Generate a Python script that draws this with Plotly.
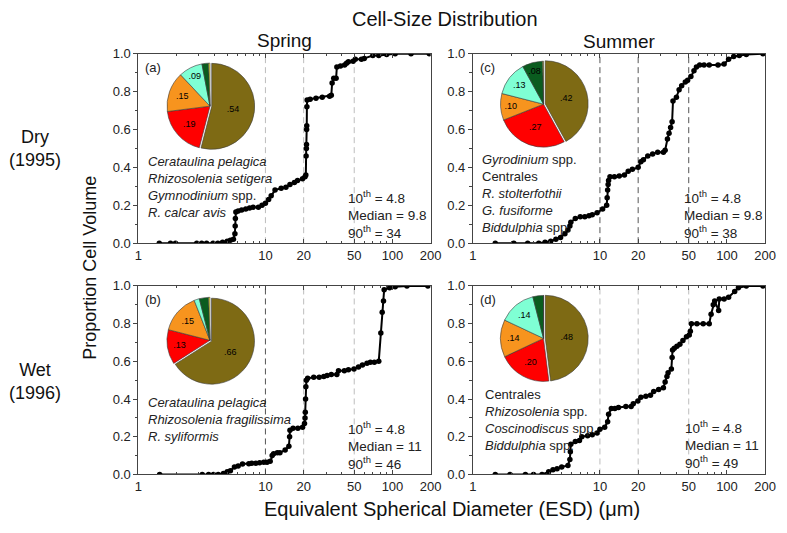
import plotly.graph_objects as go

W, H = 787, 533

# ---------------- data ----------------
# (a) Spring, Dry (1995)
a_esd = [1.46, 1.79, 1.96, 2.88, 3.15, 3.44, 3.87, 4.22, 4.6, 5.0, 5.3, 5.6, 5.75, 5.78, 5.8, 5.85,
         6.1, 6.5, 7.0, 7.5, 8.0, 8.8, 9.4, 10.0, 10.6, 11.1, 11.9, 13.3, 14.5, 15.6, 16.9, 17.9,
         19.6, 20.5, 20.8, 20.9, 21.0, 21.05, 21.1, 21.15, 21.2, 21.3, 22.5, 25.0, 28.0, 32.0, 33.0,
         33.5, 34.5, 36.0, 36.5, 39.0, 42.0, 43.5, 45.0, 49.0, 51.0, 57.0, 60.0, 70.0, 78.0, 90.0,
         105.0, 140.0, 195.0]
a_cum = [0.0, 0.0, 0.0, 0.0, 0.0, 0.0, 0.0, 0.0, 0.005, 0.01, 0.015, 0.02, 0.05, 0.09, 0.13, 0.165,
         0.17, 0.175, 0.18, 0.185, 0.19, 0.19, 0.2, 0.21, 0.23, 0.25, 0.28, 0.29, 0.295, 0.31, 0.32, 0.33,
         0.34, 0.35, 0.36, 0.46, 0.5, 0.52, 0.6, 0.62, 0.72, 0.755, 0.76, 0.765, 0.77, 0.775, 0.78,
         0.845, 0.87, 0.87, 0.93, 0.935, 0.94, 0.95, 0.957, 0.96, 0.97, 0.97, 0.975, 0.99, 0.99, 0.995,
         1.0, 1.0, 1.0]

# (c) Summer, Dry (1995)
c_esd = [1.5, 2.1, 2.7, 3.3, 3.7, 4.1, 4.5, 4.9, 5.3, 5.6, 5.8, 5.9, 6.4, 7.0, 7.6, 8.2, 8.7, 9.5,
         10.5, 11.3, 11.4, 11.5, 11.6, 11.7, 12.0, 13.0, 14.2, 15.6, 16.7, 18.0, 20.0, 21.0, 22.0,
         23.8, 26.0, 28.5, 31.6, 32.6, 34.0, 35.0, 36.0, 37.0, 37.6, 40.0, 42.0, 44.0, 47.0, 49.0,
         52.0, 55.0, 57.5, 61.0, 66.0, 72.5, 85.0, 95.0, 103.0, 113.0, 125.0, 142.0, 192.0]
c_cum = [0.0, 0.0, 0.0, 0.0, 0.005, 0.01, 0.02, 0.03, 0.05, 0.07, 0.09, 0.11, 0.13, 0.14, 0.14, 0.145,
         0.15, 0.16, 0.18, 0.2, 0.24, 0.28, 0.31, 0.33, 0.35, 0.35, 0.355, 0.36, 0.38, 0.39, 0.4, 0.43,
         0.44, 0.46, 0.47, 0.48, 0.48, 0.49, 0.55, 0.58, 0.61, 0.64, 0.75, 0.77, 0.81, 0.83, 0.85, 0.86,
         0.88, 0.91, 0.93, 0.94, 0.94, 0.94, 0.94, 0.945, 0.97, 0.985, 0.99, 0.995, 1.0]

# (b) Spring, Wet (1996)
b_esd = [1.47, 3.18, 3.57, 3.9, 4.25, 4.67, 5.0, 5.3, 5.7, 6.1, 6.6, 7.4, 7.8, 8.4, 9.0, 9.7, 10.3,
         10.9, 11.3, 11.6, 12.4, 13.0, 14.3, 15.3, 15.5, 15.6, 16.5, 18.0, 19.6, 20.3, 20.5, 20.6,
         20.7, 20.8, 21.0, 21.5, 24.0, 26.5, 28.8, 30.6, 33.0, 36.5, 37.6, 41.8, 45.0, 49.8, 54.0,
         58.0, 63.0, 67.0, 72.0, 78.0, 81.0, 83.0, 85.0, 86.0, 95.0, 105.0, 130.0, 190.0]
b_cum = [0.0, 0.0, 0.0, 0.0, 0.0, 0.005, 0.014, 0.02, 0.04, 0.045, 0.055, 0.057, 0.06, 0.06, 0.062,
         0.065, 0.065, 0.07, 0.1, 0.11, 0.115, 0.115, 0.13, 0.15, 0.2, 0.235, 0.245, 0.245, 0.25, 0.27,
         0.3, 0.33, 0.4, 0.465, 0.5, 0.51, 0.515, 0.515, 0.52, 0.525, 0.53, 0.53, 0.55, 0.55, 0.555,
         0.56, 0.57, 0.58, 0.59, 0.595, 0.595, 0.6, 0.75, 0.86, 0.92, 0.98, 0.99, 0.995, 1.0, 1.0]

# (d) Summer, Wet (1996)
d_esd = [1.5, 1.96, 2.59, 3.0, 3.5, 3.95, 4.27, 4.6, 5.0, 5.6, 5.8, 5.85, 5.9, 6.4, 6.9, 7.2, 8.0,
         8.7, 9.5, 10.0, 10.9, 11.5, 11.7, 12.3, 13.1, 14.0, 16.0, 17.6, 18.3, 19.9, 21.0, 23.0, 25.0,
         26.5, 29.0, 31.6, 32.6, 33.7, 34.4, 36.5, 37.0, 37.3, 38.5, 40.4, 42.6, 45.0, 48.0, 50.5,
         51.5, 52.5, 58.0, 65.0, 72.5, 75.0, 78.0, 80.0, 86.0, 87.0, 95.0, 103.0, 115.0, 123.0,
         142.0, 192.0]
d_cum = [0.0, 0.0, 0.0, 0.0, 0.0, 0.014, 0.025, 0.03, 0.04, 0.048, 0.08, 0.12, 0.16, 0.175, 0.18,
         0.2, 0.205, 0.21, 0.22, 0.24, 0.25, 0.28, 0.32, 0.35, 0.35, 0.355, 0.36, 0.36, 0.375, 0.39,
         0.41, 0.415, 0.42, 0.44, 0.45, 0.46, 0.49, 0.52, 0.54, 0.56, 0.62, 0.66, 0.67, 0.68, 0.69,
         0.71, 0.73, 0.74, 0.76, 0.8, 0.8, 0.8, 0.8, 0.85, 0.9, 0.92, 0.87, 0.93, 0.93, 0.94, 0.97,
         0.99, 1.0, 1.0]

# pie-chart fractions (olive, red, orange, aquamarine, dark green, yellow)
pie_a = [0.54, 0.19, 0.15, 0.09, 0.025, 0.005]
pie_a_txt = [".54", ".19", ".15", ".09", "", ""]
pie_c = [0.42, 0.27, 0.10, 0.13, 0.077, 0.003]
pie_c_txt = [".42", ".27", ".10", ".13", ".08", ""]
pie_b = [0.66, 0.13, 0.15, 0.02, 0.035, 0.005]
pie_b_txt = [".66", ".13", ".15", "", "", ""]
pie_d = [0.48, 0.20, 0.14, 0.14, 0.04, 0.0]
pie_d_txt = [".48", ".20", ".14", ".14", "", ""]
pie_groups = ["g1", "g2", "g3", "g4", "g5", "g6"]
pie_colors = ["#7E6A14", "#FF0000", "#F7941E", "#7FFFD4", "#0A5C1F", "#FFFF40"]

species_a = ["<i>Cerataulina pelagica</i>", "<i>Rhizosolenia setigera</i>",
             "<i>Gymnodinium</i> spp.", "<i>R. calcar avis</i>"]
species_c = ["<i>Gyrodinium</i> spp.", "Centrales", "<i>R. stolterfothii</i>",
             "<i>G. fusiforme</i>", "<i>Biddulphia</i> spp."]
species_b = ["<i>Cerataulina pelagica</i>", "<i>Rhizosolenia fragilissima</i>", "<i>R. syliformis</i>"]
species_d = ["Centrales", "<i>Rhizosolenia</i> spp.", "<i>Coscinodiscus</i> spp.", "<i>Biddulphia</i> spp."]

p10 = ["4.8", "4.8", "4.8", "4.8"]        # a, c, b, d
median = ["9.8", "9.8", "11", "11"]
p90 = ["34", "38", "46", "49"]

x_ticks = [1, 10, 20, 50, 100, 200]
x_minor = [2, 3, 4, 5, 6, 7, 8, 9, 30, 40, 60, 70, 80, 90]
guide_x = [10, 20, 50]

# ---------------- layout helpers ----------------
def px(x):
    return x / W

def py(y):
    return 1 - y / H

FONT = "Arial, Liberation Sans, sans-serif"
LIGHT = "#BDBDBD"
DARK = "#555555"

panels = [
    ("a", "", (137, 435), (48, 243), a_esd, a_cum, pie_a, pie_a_txt, (210, 102), "(a)",
     [LIGHT, LIGHT, LIGHT]),
    ("c", "2", (478, 776), (48, 243), c_esd, c_cum, pie_c, pie_c_txt, (550, 100), "(c)",
     [DARK, DARK, DARK]),
    ("b", "3", (137, 435), (287, 481), b_esd, b_cum, pie_b, pie_b_txt, (210, 343), "(b)",
     [DARK, LIGHT, LIGHT]),
    ("d", "4", (478, 776), (287, 481), d_esd, d_cum, pie_d, pie_d_txt, (550, 341), "(d)",
     [LIGHT, LIGHT, LIGHT]),
]

fig = go.Figure()
shapes = []
annotations = []
layout_axes = {}

for key, sfx, xd, yd, xs, ys, pv, ptxt, pc, lab, dcols in panels:
    xa = "x" + sfx
    ya = "y" + sfx
    fig.add_trace(go.Scatter(
        x=xs, y=ys, xaxis=xa, yaxis=ya, mode="lines+markers",
        line=dict(color="black", width=2),
        marker=dict(color="black", size=5.5),
        showlegend=False, hoverinfo="skip"))

    layout_axes["xaxis" + sfx] = dict(
        type="log", range=[0, 2.30103], domain=[px(xd[0]), px(xd[1])], anchor=ya,
        tickmode="array", tickvals=x_ticks, ticktext=[str(v) for v in x_ticks],
        ticks="inside", ticklen=4, tickcolor="#444", showline=True, linecolor="#444",
        linewidth=1, mirror="allticks", showgrid=False, zeroline=False,
        tickfont=dict(family=FONT, size=13, color="#222"),
        minor=dict(tickmode="array", tickvals=x_minor, ticks="inside", ticklen=2.5,
                   tickcolor="#444", showgrid=False))
    layout_axes["yaxis" + sfx] = dict(
        range=[0, 1.0], domain=[py(yd[1]), py(yd[0])], anchor=xa,
        tickmode="array", tickvals=[0, 0.2, 0.4, 0.6, 0.8, 1.0], tickformat=".1f",
        ticks="outside", ticklen=4, tickcolor="#444", showline=True, linecolor="#444",
        linewidth=1, mirror=True, showgrid=False, zeroline=False,
        tickfont=dict(family=FONT, size=13, color="#222"),
        minor=dict(tickmode="array", tickvals=[0.1, 0.3, 0.5, 0.7, 0.9], ticks="outside",
                   ticklen=2.5, tickcolor="#444", showgrid=False))

    for gx, gc in zip(guide_x, dcols):
        shapes.append(dict(type="line", xref=xa, yref=ya + " domain", x0=gx, x1=gx, y0=0, y1=1,
                           line=dict(color=gc, width=1, dash="6px,4px"), layer="below"))

    r = 46
    fig.add_trace(go.Pie(
        values=pv, labels=pie_groups, text=ptxt, textinfo="text", textposition="inside",
        insidetextorientation="horizontal", sort=False, direction="clockwise", rotation=0,
        pull=[0.04, 0, 0, 0, 0, 0],
        marker=dict(colors=pie_colors, line=dict(color="#3a3a3a", width=0.6)),
        textfont=dict(family=FONT, size=9, color="black"),
        domain=dict(x=[px(pc[0] - r), px(pc[0] + r)], y=[py(pc[1] + r), py(pc[1] - r)]),
        showlegend=False, hoverinfo="skip"))

    annotations.append(dict(text=lab, x=px(xd[0] + 15), y=py(yd[0] + 14), xref="paper", yref="paper",
                            xanchor="center", yanchor="middle", showarrow=False,
                            font=dict(family=FONT, size=13, color="#222")))

# species lists
sp_pos = {"a": (145, 149), "c": (485, 147), "b": (145, 397), "d": (488, 389)}
for key, spp in (("a", species_a), ("c", species_c), ("b", species_b), ("d", species_d)):
    x0, y0 = sp_pos[key]
    annotations.append(dict(text="<br>".join(spp), x=px(x0), y=py(y0), xref="paper", yref="paper",
                            xanchor="left", yanchor="top", align="left", showarrow=False,
                            font=dict(family=FONT, size=13, color="#222")))

# statistics
st_pos = [(349, 184), (691, 184), (349, 422), (692, 421)]
for i, (x0, y0) in enumerate(st_pos):
    txt = ("10<sup>th</sup> = " + p10[i] + "<br>Median = " + median[i] +
           "<br>90<sup>th</sup> = " + p90[i])
    annotations.append(dict(text=txt, x=px(x0), y=py(y0), xref="paper", yref="paper",
                            xanchor="left", yanchor="top", align="left", showarrow=False,
                            font=dict(family=FONT, size=13.5, color="#222")))

# titles
annotations += [
    dict(text="Cell-Size Distribution", x=px(450), y=py(12), xref="paper", yref="paper",
         xanchor="center", yanchor="middle", showarrow=False, font=dict(family=FONT, size=20, color="#111")),
    dict(text="Spring", x=px(286), y=py(34), xref="paper", yref="paper",
         xanchor="center", yanchor="middle", showarrow=False, font=dict(family=FONT, size=19, color="#111")),
    dict(text="Summer", x=px(627), y=py(36), xref="paper", yref="paper",
         xanchor="center", yanchor="middle", showarrow=False, font=dict(family=FONT, size=19, color="#111")),
    dict(text="Dry<br>(1995)", x=px(32), y=py(146), xref="paper", yref="paper",
         xanchor="center", yanchor="middle", showarrow=False, font=dict(family=FONT, size=18, color="#111")),
    dict(text="Wet<br>(1996)", x=px(32), y=py(385), xref="paper", yref="paper",
         xanchor="center", yanchor="middle", showarrow=False, font=dict(family=FONT, size=18, color="#111")),
    dict(text="Proportion Cell Volume", x=px(88), y=py(268), xref="paper", yref="paper", textangle=-90,
         xanchor="center", yanchor="middle", showarrow=False, font=dict(family=FONT, size=18, color="#111")),
    dict(text="Equivalent Spherical Diameter (ESD) (\u03bcm)", x=px(457), y=py(517), xref="paper",
         yref="paper", xanchor="center", yanchor="middle", showarrow=False,
         font=dict(family=FONT, size=20, color="#111")),
]

fig.update_layout(
    width=W, height=H, autosize=False,
    margin=dict(l=0, r=0, t=0, b=0),
    paper_bgcolor="white", plot_bgcolor="white",
    shapes=shapes, annotations=annotations,
    **layout_axes)

fig.write_html("out.html", config={"displayModeBar": False, "staticPlot": True},
               post_script="document.body.style.margin='0';document.body.style.overflow='hidden';")
